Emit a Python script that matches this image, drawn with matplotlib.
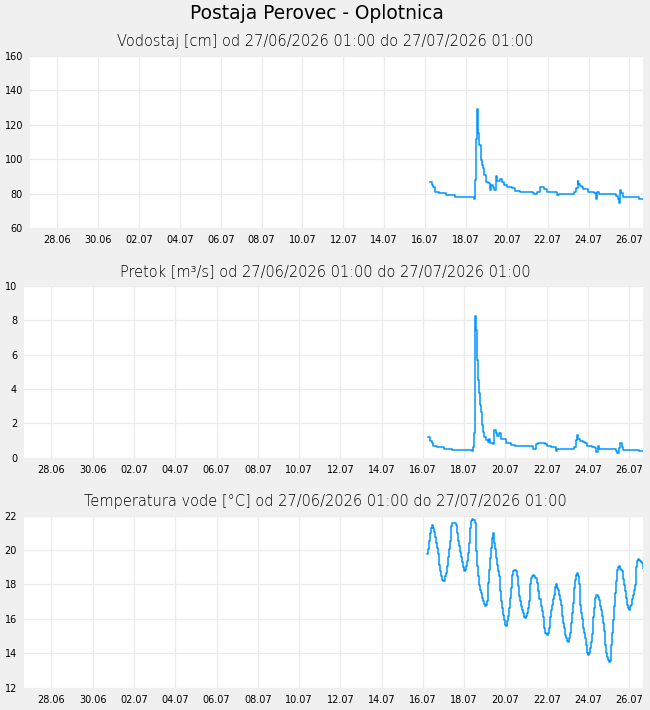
import datetime as dt

import matplotlib
matplotlib.use('Agg')
import matplotlib.pyplot as plt
import pandas as pd

# dni od 16.07.2026 00:00
level_days = [0.26, 0.33, 0.37, 0.41, 0.49, 0.69, 1.04, 1.44, 2.41, 2.45, 2.50, 2.56, 2.59, 2.61,
              2.66, 2.72, 2.77, 2.82, 2.89, 2.97, 3.10, 3.18, 3.23, 3.31, 3.38, 3.47, 3.54, 3.67,
              3.75, 3.87, 4.03, 4.24, 4.41, 4.65, 5.30, 5.34, 5.47, 5.50, 5.60, 5.63, 5.79, 5.83,
              5.96, 5.99, 6.20, 6.45, 6.53, 7.26, 7.29, 7.39, 7.46, 7.50, 7.59, 7.67, 7.75, 7.91,
              7.99, 8.16, 8.27, 8.37, 8.43, 8.53, 9.30, 9.35, 9.43, 9.50, 9.54, 9.61, 9.68, 10.44,
              10.49, 10.68]
level_cm = [86.5, 85.0, 84.3, 83.6, 81.1, 80.5, 79.2, 78.2, 76.8, 87.8, 111.5, 128.9, 123.7, 115.0,
            108.2, 99.5, 96.6, 94.6, 90.8, 86.9, 85.9, 82.0, 85.0, 83.6, 82.0, 90.2, 87.5, 88.3,
            86.9, 85.0, 84.0, 83.0, 81.7, 80.7, 80.5, 79.5, 79.5, 81.0, 83.0, 83.6, 83.6, 82.5,
            82.5, 81.1, 80.7, 79.0, 79.5, 79.5, 80.7, 83.0, 87.5, 85.5, 84.4, 83.6, 82.5, 82.5,
            81.1, 80.7, 80.1, 76.7, 81.1, 79.5, 79.5, 78.5, 77.0, 74.3, 82.0, 80.1, 78.2, 78.2,
            76.8, 76.8]

flow_days = [0.26, 0.34, 0.43, 0.50, 0.70, 1.02, 1.40, 2.37, 2.44, 2.49, 2.54, 2.57, 2.61, 2.66,
             2.70, 2.75, 2.80, 2.86, 2.91, 2.98, 3.04, 3.14, 3.20, 3.25, 3.41, 3.46, 3.53, 3.61,
             3.69, 3.79, 4.03, 4.26, 4.46, 5.35, 5.48, 5.59, 5.92, 6.00, 6.19, 6.45, 6.52, 7.29,
             7.34, 7.41, 7.45, 7.53, 7.61, 7.75, 7.86, 7.97, 8.18, 8.34, 8.41, 8.47, 8.54, 9.31,
             9.36, 9.42, 9.50, 9.55, 9.64, 9.71, 10.44, 10.49, 10.68]
flow_m3s = [1.19, 0.99, 0.84, 0.70, 0.64, 0.52, 0.45, 0.41, 0.60, 1.46, 8.25, 7.44, 5.69, 4.53,
            3.79, 3.07, 2.68, 1.90, 1.51, 1.22, 1.05, 0.93, 1.10, 0.87, 0.80, 1.61, 1.42, 1.26,
            1.42, 1.07, 0.87, 0.74, 0.68, 0.51, 0.80, 0.87, 0.80, 0.68, 0.62, 0.40, 0.51, 0.51,
            0.64, 1.03, 1.32, 1.10, 0.95, 0.90, 0.84, 0.70, 0.64, 0.55, 0.35, 0.70, 0.51, 0.51,
            0.40, 0.26, 0.55, 0.84, 0.64, 0.45, 0.45, 0.39, 0.39]

temp_days = [0.22, 0.25, 0.30, 0.34, 0.39, 0.44, 0.49, 0.54, 0.59, 0.64,
             0.68, 0.73, 0.78, 0.83, 0.88, 0.93, 0.99, 1.06, 1.10, 1.15,
             1.20, 1.25, 1.30, 1.35, 1.41, 1.48, 1.54, 1.59, 1.64, 1.69,
             1.75, 1.80, 1.85, 1.90, 1.94, 1.99, 2.04, 2.09, 2.14, 2.20,
             2.25, 2.30, 2.35, 2.40, 2.44, 2.51, 2.56, 2.62, 2.67, 2.72,
             2.77, 2.82, 2.86, 2.91, 2.96, 3.01, 3.07, 3.12, 3.17, 3.22,
             3.27, 3.32, 3.37, 3.41, 3.46, 3.51, 3.56, 3.61, 3.66, 3.70,
             3.75, 3.80, 3.85, 3.90, 3.95, 4.00, 4.04, 4.09, 4.14, 4.19,
             4.24, 4.29, 4.33, 4.38, 4.43, 4.48, 4.53, 4.58, 4.63, 4.67,
             4.72, 4.77, 4.82, 4.87, 4.92, 4.96, 5.01, 5.06, 5.11, 5.16,
             5.21, 5.26, 5.30, 5.35, 5.40, 5.45, 5.51, 5.58, 5.64,
             5.71, 5.76, 5.81, 5.85, 5.90, 5.95, 6.00, 6.05, 6.10, 6.14,
             6.19, 6.24, 6.29, 6.34, 6.39, 6.44, 6.48, 6.53, 6.58, 6.63,
             6.68, 6.73, 6.77, 6.82, 6.87, 6.92, 6.97, 7.02, 7.07, 7.11,
             7.16, 7.21, 7.26, 7.31, 7.36, 7.40, 7.45, 7.50, 7.55, 7.60,
             7.65, 7.70, 7.74, 7.79, 7.84, 7.89, 7.94, 7.99, 8.03, 8.08,
             8.13, 8.18, 8.23, 8.28, 8.33, 8.37, 8.42, 8.47, 8.52, 8.57,
             8.62, 8.66, 8.71, 8.76, 8.81, 8.86, 8.91, 8.96, 9.00, 9.05,
             9.10, 9.15, 9.20, 9.25, 9.30, 9.34, 9.39, 9.44, 9.49, 9.54,
             9.59, 9.63, 9.68, 9.73, 9.78, 9.83, 9.88, 9.93, 9.97, 10.02,
             10.07, 10.12, 10.17, 10.22, 10.26, 10.31, 10.36, 10.41, 10.46, 10.51,
             10.56, 10.60, 10.65, 10.68]
temp_c = [19.75, 20.04, 20.53, 20.97, 21.31, 21.44, 21.31, 21.05, 20.78, 20.43,
          20.14, 19.75, 19.16, 18.77, 18.48, 18.28, 18.19, 18.48, 18.67, 19.06,
          19.61, 20.08, 20.53, 21.40, 21.56, 21.60, 21.56, 21.44, 20.97, 20.53,
          20.23, 19.88, 19.59, 19.30, 19.03, 18.77, 18.87, 19.06, 19.36, 19.84,
          20.43, 21.31, 21.70, 21.83, 21.75, 21.60, 19.94, 19.06, 18.52, 17.99,
          17.70, 17.50, 17.21, 17.02, 16.86, 16.73, 16.82, 17.02, 18.09, 18.87,
          19.55, 20.14, 20.72, 20.97, 20.43, 20.04, 19.55, 19.16, 18.77, 18.48,
          17.60, 17.02, 16.63, 16.24, 15.95, 15.65, 15.59, 15.85, 16.18, 16.63,
          17.21, 17.80, 18.58, 18.77, 18.87, 18.87, 18.77, 18.48, 17.89, 17.31,
          17.02, 16.73, 16.53, 16.34, 16.10, 16.04, 16.18, 16.34, 16.63, 17.02,
          18.05, 18.38, 18.52, 18.56, 18.52, 18.38, 18.09, 17.64, 17.15,
          16.73, 16.43, 16.10, 15.46, 15.20, 15.13, 15.07, 15.20, 15.46, 16.10,
          16.53, 16.82, 17.15, 17.41, 17.86, 18.05, 17.80, 17.70, 17.41, 17.12,
          16.82, 16.14, 15.75, 15.46, 15.07, 14.87, 14.74, 14.68, 14.87, 15.20,
          15.75, 16.37, 16.92, 17.80, 18.28, 18.58, 18.67, 18.52, 18.05, 16.82,
          16.34, 15.98, 15.46, 15.17, 14.87, 14.48, 14.00, 13.90, 14.00, 14.29,
          14.68, 15.13, 16.10, 16.63, 17.21, 17.41, 17.41, 17.27, 17.08, 16.76,
          16.53, 16.14, 15.79, 15.32, 14.48, 14.04, 13.81, 13.61, 13.51, 13.57,
          14.48, 15.17, 15.95, 16.73, 17.50, 18.19, 18.87, 19.03, 19.06, 18.91,
          18.83, 18.77, 18.32, 17.99, 17.60, 17.21, 16.82, 16.63, 16.53, 16.73,
          16.82, 17.15, 17.41, 17.70, 17.99, 19.03, 19.36, 19.49, 19.41, 19.36,
          19.30, 19.22, 19.10, 18.97]

tick_labels = ['28.06', '30.06', '02.07', '04.07', '06.07', '08.07', '10.07',
               '12.07', '14.07', '16.07', '18.07', '20.07', '22.07', '24.07', '26.07']

BG = '#f0f0f0'
LINE = '#0096ff'
GRID = '#ebebeb'

data_start = dt.datetime(2026, 7, 16)
x_from = dt.datetime(2026, 6, 26, 16)
x_to = dt.datetime(2026, 7, 26, 16)


def to_dates(days):
    return data_start + pd.to_timedelta(days, unit='D')


def setup_axis(ax, title, ylim, ystep):
    ax.set_facecolor('white')
    for s in ax.spines.values():
        s.set_visible(False)
    ax.set_xlim(x_from, x_to)
    ax.set_ylim(*ylim)
    ax.set_yticks(range(ylim[0], ylim[1] + 1, ystep))
    ticks = pd.date_range('2026-06-28', '2026-07-26', freq='2D')
    ax.set_xticks(ticks)
    ax.set_xticklabels(tick_labels)
    ax.tick_params(length=0, labelsize=7, pad=5)
    ax.grid(True, color=GRID, linewidth=0.9)
    ax.set_axisbelow(True)
    # naslov je centriran na sliko, ne na os
    bbox = ax.get_position()
    x_center = (0.5 - bbox.x0) / bbox.width
    ax.set_title(title, fontsize=10.5, pad=7, fontweight='light', color='black', x=x_center)


fig = plt.figure(figsize=(6.5, 7.1), dpi=100, facecolor=BG)
fig.suptitle('Postaja Perovec - Oplotnica', fontsize=13.4, x=0.487, y=0.981, va='center')

ax1 = fig.add_axes([0.0462, 0.6789, 0.9431, 0.2427])
ax2 = fig.add_axes([0.0369, 0.3554, 0.9523, 0.2418])
ax3 = fig.add_axes([0.0369, 0.0314, 0.9523, 0.2423])

period = 'od 27/06/2026 01:00 do 27/07/2026 01:00'
setup_axis(ax1, 'Vodostaj [cm] ' + period, (60, 160), 20)
setup_axis(ax2, 'Pretok [m³/s] ' + period, (0, 10), 2)
setup_axis(ax3, 'Temperatura vode [°C] ' + period, (12, 22), 2)

ax1.plot(to_dates(level_days), level_cm, color=LINE, lw=1.1, drawstyle='steps-post')
ax2.plot(to_dates(flow_days), flow_m3s, color=LINE, lw=1.1, drawstyle='steps-post')
ax3.plot(to_dates(temp_days), temp_c, color=LINE, lw=1.1, drawstyle='steps-post')

fig.savefig('out.png', dpi=100, facecolor=BG)
